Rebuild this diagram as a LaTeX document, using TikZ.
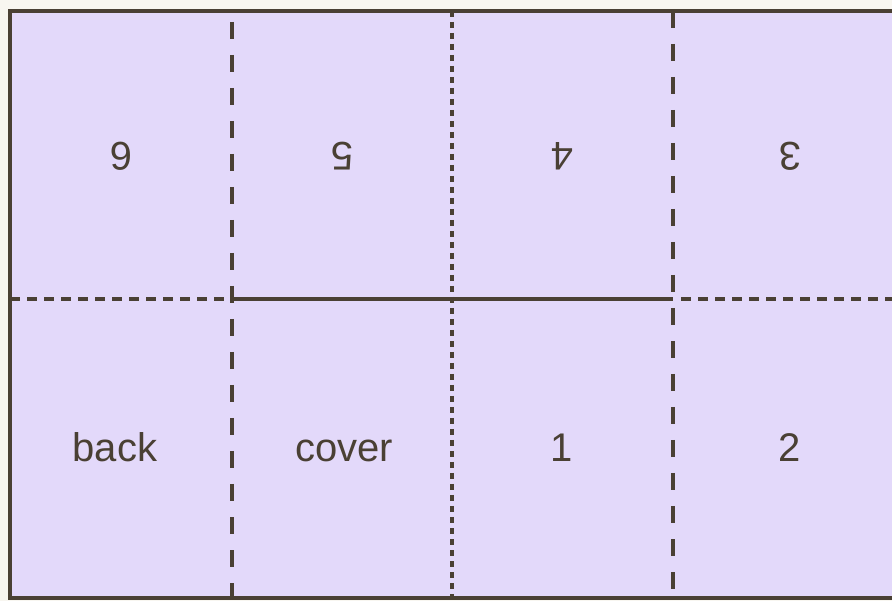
\documentclass[tikz,border=0pt]{standalone}
\usepackage{fontspec}
\setmainfont{Liberation Sans}
\definecolor{paper}{HTML}{E3D9FA}
\definecolor{ink}{HTML}{4A4034}
\definecolor{outside}{HTML}{F8F6F0}
\begin{document}
\begin{tikzpicture}[x=1pt,y=-1pt,
  foldline/.style={draw=ink,line width=3.4pt},
  longdash/.style={foldline,dash pattern=on 17pt off 16pt},
  shortdash/.style={foldline,dash pattern=on 6pt off 5pt},
  hdash/.style={foldline,dash pattern=on 10pt off 7pt},
  label/.style={text=ink,font=\fontsize{40}{44}\selectfont,inner sep=0pt,
    text height=30pt,text depth=0pt},
  flipped/.style={label,rotate=180}]
\useasboundingbox (0,0) rectangle (892,601);
\fill[outside] (0,0) rectangle (892,601);
\fill[paper] (10,11) rectangle (892,598);
% outer border (no right edge visible)
\coordinate (tr) at (893,11);
\coordinate (tl) at (10,11);
\coordinate (bl) at (10,598);
\coordinate (br) at (893,598);
\draw[foldline,line cap=rect] (tr) -- (tl) -- (bl) -- (br);
% fold and cut lines
\coordinate (v1t) at (232,11);  \coordinate (v1b) at (232,598);
\coordinate (v2t) at (452,11);  \coordinate (v2b) at (452,598);
\coordinate (v3t) at (673,11);  \coordinate (v3b) at (673,598);
\coordinate (hl) at (10,299);   \coordinate (h1) at (232,299);
\coordinate (h3) at (673,299);  \coordinate (hr) at (893,299);
\draw[longdash,dash phase=22pt] (v1t) -- (v1b);
\draw[shortdash] (v2t) -- (v2b);
\draw[longdash] (v3t) -- (v3b);
\draw[hdash] (hl) -- (h1);
\draw[foldline] (h1) -- (h3);
\draw[hdash] ([xshift=8pt]h3) -- (hr);
% panel labels
\node[flipped] (p6) at (121,158) {6};
\node[flipped] (p5) at (342,158) {5};
\node[flipped] (p4) at (562,158) {4};
\node[flipped] (p3) at (790,158) {3};
\node[label] (pb) at (115,447) {back};
\node[label] (pc) at (344,447) {cover};
\node[label] (p1) at (562,447) {1};
\node[label] (p2) at (790,447) {2};
\end{tikzpicture}
\end{document}
